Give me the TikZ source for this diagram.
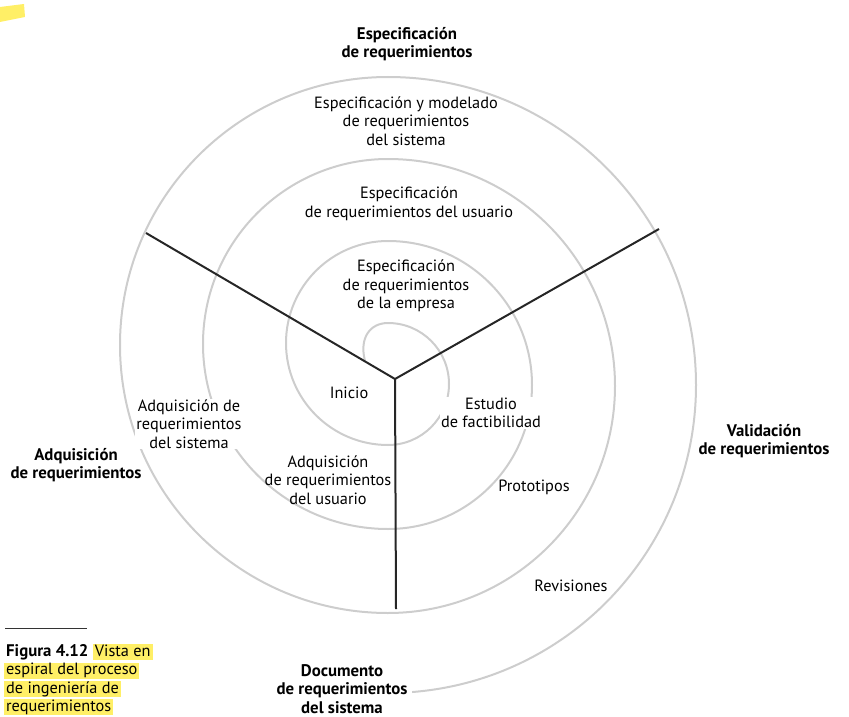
\documentclass[tikz,border=0pt]{standalone}
\usepackage{fontspec}
\setmainfont{PT Sans}
\usetikzlibrary{positioning}
\definecolor{ringgray}{RGB}{205,205,205}
\definecolor{hiliteyellow}{RGB}{255,239,102}

\begin{document}
\begin{tikzpicture}[
x=1pt, y=1pt,
font=\fontsize{16.3}{18.5}\selectfont,
ring/.style={draw=ringgray, line width=2pt},
spoke/.style={draw=black!85, line width=2pt},
act/.style={align=center, inner sep=1pt},
phase/.style={align=center, font=\fontsize{16.8}{18.5}\selectfont\bfseries},
hilite/.style={fill=hiliteyellow, inner xsep=2pt, inner ysep=1pt, text height=11pt, text depth=3pt}
]
\useasboundingbox (0,0) rectangle (849,-717);

% marker stroke left over at the top
\fill[hiliteyellow] (0,-7) -- (24,-4) -- (25,-17) -- (0,-22) -- cycle;

% the spiral
\coordinate (curl) at (365,-361);
\draw[ring] (curl) .. controls (359,-338) and (370,-323) .. (388,-323)
  arc[start angle=90, end angle=-90, radius=61]
  arc[start angle=270, end angle=90, radius=102]
  arc[start angle=90, end angle=-90, radius=144]
  arc[start angle=270, end angle=90, radius=185]
  arc[start angle=90, end angle=-90, radius=227]
  arc[start angle=270, end angle=90, radius=268]
  arc[start angle=90, end angle=-85.5, radius=308] coordinate (tail);

% phases
\node[phase] (spec) at (407,-44) {Especificación\\de requerimientos};
\node[phase] (valid) at (764,-441) {Validación\\de requerimientos};
\node[phase] (acq) at (76,-465) {Adquisición\\de requerimientos};
\node[phase] (doc) at (342,-689) {Documento\\de requerimientos\\del sistema};

% activities
\node[act] (sysmod) at (406,-121) {Especificación y modelado\\de requerimientos\\del sistema};
\node[act] (usrspec) at (409,-204) {Especificación\\de requerimientos del usuario};
\node[act] (bizspec) at (406,-286) {Especificación\\de requerimientos\\de la empresa};
\node[act] (start) at (349,-393) {Inicio};
\node[act, fill=white] (feas) at (491,-413) {Estudio\\de factibilidad};
\node[act, fill=white] (sysacq) at (189,-424) {Adquisición de\\requerimientos\\del sistema};
\node[act] (usracq) at (328,-480) {Adquisición\\de requerimientos\\del usuario};
\node[act] (proto) at (534,-487) {Prototipos};
\node[act] (review) at (571,-586) {Revisiones};

% the three spokes
\coordinate (hub) at (395,-379);
\coordinate (nw) at (146,-233);
\coordinate (ne) at (659,-229);
\coordinate (s) at (396,-609);
\draw[spoke] (nw) -- (hub) -- (ne);
\draw[spoke] (hub) -- (s);

% caption
\coordinate (rulestart) at (5,-628);
\coordinate (ruleend) at (87,-628);
\draw[black!80, line width=1pt] (rulestart) -- (ruleend);
\node[anchor=base west, inner sep=0pt, font=\fontsize{16.8}{18.5}\selectfont\bfseries] (fig) at (6,-656) {Figura 4.12};
\node[hilite, base right=4pt of fig] (cap1) {Vista en};
\node[hilite, anchor=base west] (cap2) at (4,-674.5) {espiral del proceso};
\node[hilite, anchor=base west] (cap3) at (4,-693) {de ingeniería de};
\node[hilite, anchor=base west] (cap4) at (4,-711) {requerimientos};
\end{tikzpicture}
\end{document}
